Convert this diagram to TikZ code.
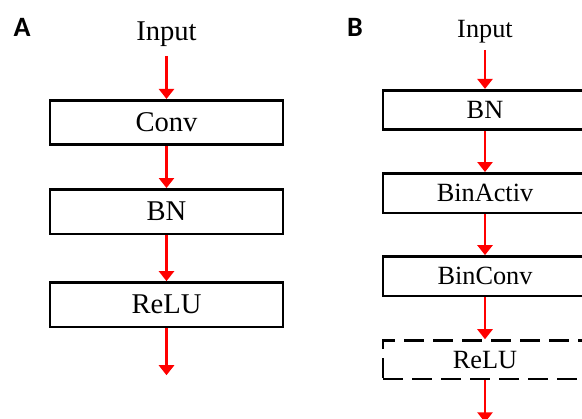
\documentclass[tikz,border=0pt]{standalone}
\usepackage{fontspec}
\setmainfont{Liberation Serif}
\newfontfamily\panelfont{Carlito}
\usetikzlibrary{positioning, arrows.meta}
\tikzset{
    layer/.style={ % one block of the network
        draw,
        line width=2.6pt,
        minimum height=44.5pt,
        inner sep=0pt
    },
    io/.style={inner sep=0pt}, % plain text above the blocks
    flow/.style={ % red data flow arrows
        draw=red,
        line width=2.6pt,
        -{Triangle[length=10pt,width=15pt]}
    },
    panel/.style={font=\panelfont\bfseries\fontsize{28}{30}\selectfont}
}

\begin{document}
\begin{tikzpicture}[x=1pt,y=-1pt]
        \clip (0,0) rectangle (582,419);
        %
        % panel A
        \tikzset{every node/.append style={font=\fontsize{28.6}{30}\selectfont}}
        \node[panel] (labA) at (22,27) {A};
        \node[layer,minimum width=233pt] (convA) at (166.5,122.5) {Conv};
        \node[layer,minimum width=233pt,below=42pt of convA] (bnA) {BN};
        \node[layer,minimum width=233pt,below=46pt of bnA] (reluA) {ReLU};
        \node[io,outer sep=9pt,above=43pt of convA] (inA) {Input};
        \coordinate[below=47pt of reluA] (outA);
        
        \draw[flow] (inA) -- (convA);
        \draw[flow] (convA) -- (bnA);
        \draw[flow] (bnA) -- (reluA);
        \draw[flow] (reluA) -- (outA);
        %
        % panel B
        \tikzset{every node/.append style={font=\fontsize{26.3}{28}\selectfont}}
        \node[panel] (labB) at (355,27) {B};
        \node[layer,minimum width=204pt,minimum height=39.5pt] (bnB) at (485,110) {BN};
        \node[layer,minimum width=204pt,minimum height=39.5pt,below=41pt of bnB] (actB) {BinActiv};
        \node[layer,minimum width=204pt,minimum height=39.5pt,below=41pt of actB] (binconvB) {BinConv};
        \node[layer,minimum width=204pt,minimum height=38.5pt,below=42pt of binconvB,
              dash pattern=on 20pt off 9pt] (reluB) {ReLU};
        \node[io,outer sep=7pt,above=39pt of bnB] (inB) {Input};
        \coordinate[below=42pt of reluB] (outB);
        
        \draw[flow] (inB) -- (bnB);
        \draw[flow] (bnB) -- (actB);
        \draw[flow] (actB) -- (binconvB);
        \draw[flow] (binconvB) -- (reluB);
        \draw[flow] (reluB) -- (outB);
    \end{tikzpicture}
\end{document}
